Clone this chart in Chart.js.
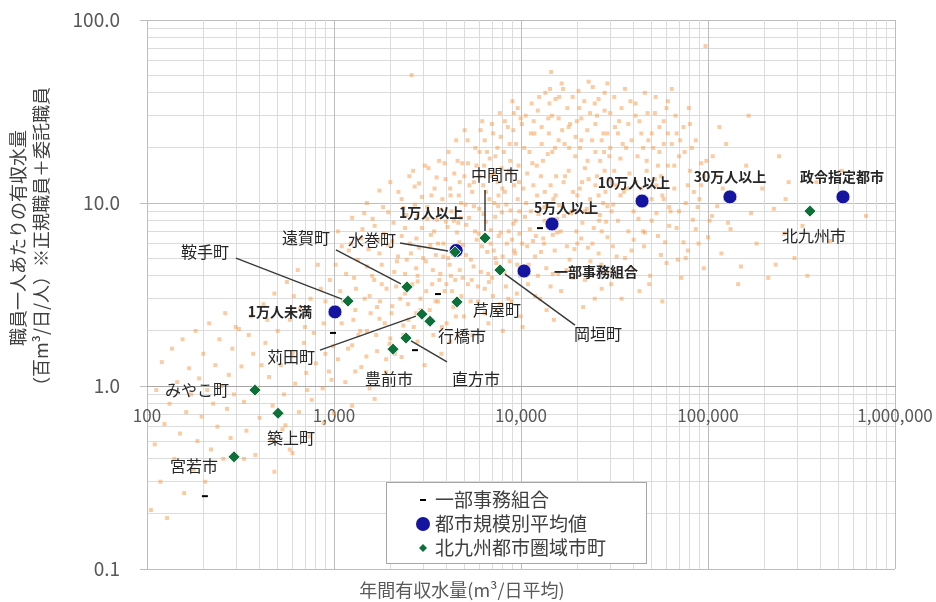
<!DOCTYPE html>
<html lang="ja">
<head>
<meta charset="utf-8">
<script src="https://cdn.jsdelivr.net/npm/chart.js@4.4.1/dist/chart.umd.min.js"></script>
<style>
  html, body { margin: 0; padding: 0; background: #fff; }
  #wrap { position: relative; width: 936px; height: 602px; }
</style>
</head>
<body>
<div id="wrap"><canvas id="grafico"></canvas></div>
<script>
/* 職員一人あたりの有収水量 × 年間有収水量（両対数の散布図） */

const FONTE = '"Noto Sans CJK JP", "Noto Sans", sans-serif';

// 目盛（10のべき乗だけラベルを出す）
const xMajor = [100, 1000, 10000, 100000, 1000000];
const yMajor = [0.1, 1, 10, 100];

// 全国の事業体（背景の薄いオレンジの点）— 図から読み取った概数
const bg100 = [
  [105,0.21],[110,0.48],[112,0.95],[118,0.3],[120,1.35],[124,0.62],[128,0.19],[132,0.8],
  [136,1.6],[140,0.4],[145,1.05],[150,0.55],[155,1.8],[158,0.26],[162,0.72],[168,1.25],
  [172,0.9],[178,0.35],[182,2.0],[186,0.5],[190,1.1],[196,0.68],[200,1.5],[205,0.3],
  [210,0.95],[215,2.2],[220,0.45],[226,0.8],[232,1.3],[238,0.6],[244,1.8],[250,1.0],
  [256,0.4],[262,2.5],[268,0.75],[274,1.15],[280,0.52],[286,1.6],[292,0.9],[298,2.1]
];
const bg300 = [
  [310,2.05],[360,2.4],[420,2.8],[480,3.2],[560,3.7],[640,4.3],
  [320,1.28],[370,1.5],[430,1.72],[500,2.0],[580,2.3],[660,2.65],[750,3.0],[850,3.4],[950,3.8],
  [330,0.82],[390,0.98],[450,1.12],[520,1.3],[600,1.5],[690,1.72],[780,1.95],[880,2.2],[980,2.45],
  [340,0.57],[400,0.67],[470,0.78],[540,0.9],[620,1.03],[710,1.18],[800,1.33],[900,1.5],[990,1.65],
  [380,0.42],[460,0.51],[550,0.61],[650,0.72],[760,0.84],[870,0.97],[970,1.08],
  [480,0.34],[600,0.43],[740,0.53],[880,0.63],[1000,0.71],
  [350,1.9],[410,1.3],[440,2.3],[530,0.58],[610,3.1],[700,2.1],[720,0.95],[820,4.6],
  [900,2.9],[940,1.2],[330,0.4],[580,0.45]
];
const bg1k = [
  [1050,7.0],[1250,8.3],[1500,10],[1750,11.7],
  [1020,4.6],[1200,5.5],[1400,6.4],[1650,7.5],[1950,8.9],[2300,10.5],[2700,12.3],
  [1080,3.3],[1280,3.9],[1500,4.5],[1750,5.3],[2050,6.2],[2400,7.3],[2800,8.5],
  [1100,2.2],[1300,2.6],[1550,3.1],[1800,3.6],[2100,4.2],[2450,4.9],[2850,5.7],
  [1050,1.4],[1250,1.67],[1500,2.0],[1750,2.33],[2050,2.73],[2400,3.2],[2800,3.73],
  [1150,1.05],[1400,1.27],[1700,1.55],[2000,1.82],[2350,2.14],[2750,2.5],
  [1250,0.78],[1550,0.97],[1900,1.19],[2300,1.44],[2800,1.75],
  [1100,5.8],[1200,3.0],[1350,1.9],[1450,8.8],[1600,4.0],[1700,2.7],[1850,6.8],[1900,1.4],
  [2000,13],[2150,3.5],[2200,5.1],[2350,9.4],[2500,2.3],[2550,6.0],[2650,15],[2750,4.4],
  [2900,3.0],[2950,10.8],[1300,1.2],[1650,0.85],[2600,50],
  [1120,2.9],[1160,4.1],[1190,1.6],[1230,6.0],[1270,2.3],[1310,3.4],[1340,4.9],[1380,2.0],
  [1420,7.2],[1460,3.0],[1490,1.45],[1530,5.6],[1570,2.5],[1610,8.2],[1640,3.8],[1680,1.9],
  [1720,6.3],[1760,2.9],[1800,4.6],[1830,9.5],[1870,2.2],[1910,3.4],[1940,5.9],[1980,1.7],
  [2030,2.5],[2080,7.8],[2120,1.5],[2170,4.8],[2210,11.5],[2260,3.0],[2300,6.6],[2350,1.9],
  [2400,4.1],[2440,8.6],[2490,2.8],[2530,14],[2580,5.3],[2620,3.6],[2670,2.1],[2710,9.8],
  [2760,6.4],[2800,4.0],[2850,12.8],[2900,2.6],[2950,7.3]
];
const bg3k = [
  [3050,1.3],[3100,4.8],[3150,9.5],[3200,15.5],[3250,2.6],[3300,6.7],[3350,3.6],[3400,1.9],
  [3450,12],[3500,5.2],[3550,8.1],[3600,2.9],[3650,17],[3700,4.1],[3750,1.5],[3800,10.5],
  [3850,6.0],[3900,3.3],[3950,13.5],[4000,2.2],[4050,7.4],[4100,19],[4150,4.6],[4200,1.75],
  [4250,9.0],[4300,5.6],[4350,2.7],[4400,14.5],[4450,3.8],[4500,22],[4550,6.9],[4600,1.9],
  [4650,11],[4700,4.3],[4750,8.3],[4800,3.1],[4850,16.5],[4900,5.9],[4950,2.4],[5000,25],
  [5100,7.6],[5200,3.6],[5300,12.5],[5400,4.9],[5500,1.9],[5600,9.6],[5700,20],[5800,6.3],
  [5900,2.9],[6000,14],[6100,4.2],[6200,28],[6300,8.7],[6400,3.4],[6500,11.5],[6600,5.4],
  [6700,2.2],[6800,17.5],[6900,7.1],[7000,3.9],[7100,24],[7200,10],[7300,5.0],[7400,2.6],
  [7500,13],[7600,6.6],[7700,31],[7800,4.4],[7900,8.9],[8000,2.0],[8100,19],[8200,11.5],
  [8300,3.5],[8400,6.0],[8500,26],[8600,15],[8700,4.8],[8800,9.1],[8900,2.9],[9000,36],
  [9100,7.7],[9200,12.5],[9300,5.3],[9400,21],[9500,3.2],[9600,10.5],[9700,16],[9800,6.8],
  [9900,4.0],[9950,29],
  [3000,5.0],[3060,16],[3110,3.3],[3160,8.2],[3210,2.3],[3270,5.9],[3320,11],[3380,4.3],
  [3430,7.0],[3490,2.9],[3540,13.8],[3600,6.0],[3660,3.8],[3720,9.2],[3780,2.1],[3840,5.1],
  [3900,16.5],[3960,7.9],[3990,3.6],
  [4080,5.0],[4180,12],[4280,3.3],[4380,8.0],[4480,2.4],[4580,17],[4680,6.1],[4780,10],
  [4880,3.9],[4980,14],[5080,5.2],[5180,22],[5280,8.3],[5380,2.9],[5480,11.5],[5580,4.5],
  [5680,7.0],[5780,16],[5880,3.5],[5980,9.3],[6080,25],[6180,5.8],[6280,12.5],[6380,2.5],
  [6480,7.9],[6580,19],[6680,4.1],[6780,10.5],[6880,6.0],[6980,27],[7080,3.1],[7180,14.5],
  [7280,8.4],[7380,4.7],[7480,20],[7580,11],[7680,2.8],[7780,6.9],[7880,15.5],[7980,5.1],
  [4220,4.0],[4620,7.8],[5050,9.8],[5450,3.8],[5950,6.8],[6350,16],[6750,3.7],[7150,5.5],
  [7550,9.6],[7950,12],
  [8150,4.2],[8350,9.8],[8550,3.0],[8750,17],[8950,6.3],[9150,31],[9350,8.0],[9550,4.6],
  [9750,13],[9950,2.4],[8600,7.0],[9200,5.5],[9800,9.0],
  [4200,11],[4700,13],[5200,16.5],[5600,13],[6000,19],[6400,22],[6900,14],[7300,18],
  [7800,23],[8200,28],[8700,21],[9100,25],[9600,33]
];
const bg10k = [
  [10200,2.1],[10500,8.4],[10800,14.5],[11000,4.6],[11300,24],[11600,6.2],[11900,3.1],[12200,11],
  [12500,38],[12800,5.4],[13100,17],[13400,8.0],[13700,2.6],[14000,29],[14400,12.5],[14800,4.1],
  [15200,20],[15600,6.9],[16000,9.7],[16400,3.3],[16800,42],[17200,14],[17600,5.8],[18000,26],
  [18500,8.8],[19000,3.9],[19500,18],[20000,11],[20500,33],[21000,6.4],[21500,2.7],[22000,15.5],
  [22500,9.3],[23000,46],[23500,4.8],[24000,22],[24500,7.3],[25000,12.5],[25500,30],[26000,5.3],
  [26500,17],[27000,3.4],[27500,10],[28000,40],[28500,7.9],[29000,24],[29500,13.5],[12000,6.6],
  [15000,2.3],[18200,4.9],[21200,13],[24800,3.0],[27800,19],[13300,9.5],[16600,25],[19800,7.0],
  [22800,5.7],[26400,8.6],[11500,16.5],[14200,35],[20700,20],[28800,4.2],[14500,52],
  [10150,6.0],[10400,20],[10650,10],[10900,3.6],[11150,7.2],[11400,35],[11650,12.5],[11900,5.1],
  [12150,16],[12400,8.7],[12650,3.0],[12900,26],[13150,6.4],[13400,11.5],[13650,4.4],[13900,18.5],
  [14150,7.6],[14400,3.5],[14650,30],[14900,10.5],[15150,5.5],[15400,14],[15650,8.2],[15900,22],
  [10300,12],[10800,5.8],[11300,9.0],[11800,24],[12300,4.0],[12800,14],[13300,6.0],[13800,9.8],
  [14300,42],[14800,6.7],[15300,11],[15800,4.1],[16000,38],
  [16300,7.0],[16900,13],[17500,4.3],[18100,20],[18700,9.0],[19300,5.6],[19900,28],[20600,12],
  [21300,7.8],[22000,3.8],[22700,17],[23400,10.5],[24100,6.0],[24800,35],[25500,14],[26200,8.0],
  [26900,4.6],[27600,24],[28300,11.5],[29000,6.5],[29700,18],
  [17000,8.5],[18000,15],[19000,11.5],[20000,6.0],[21000,22],[22000,9.0],[23000,13.5],[24000,4.4],
  [25000,19],[26000,11],[27000,7.0],[28000,15],[29000,9.6],
  [10100,27],[10600,30],[11100,19],[11700,28],[12300,32],[12900,21],[13500,40],[14100,24],
  [14700,19],[15300,37],[15900,29],[16500,45],[17100,21],[17700,33],[18300,27],[18900,38],
  [19600,23],[20300,41],[21000,29],[21800,36],[22600,25],[23400,31],[24200,43],[25000,27],
  [26000,37],[27000,22],[28000,32],[29000,45]
];
const bg30k = [
  [30500,9.0],[31500,15],[32500,5.1],[33500,28],[34500,3.0],[35500,11.5],[36500,20],[37500,7.0],
  [38500,36],[39500,4.3],[41000,13],[42500,8.2],[44000,24],[45500,5.8],[47000,17],[48500,3.6],
  [50000,10.5],[52000,31],[54000,6.6],[56000,14],[58000,21],[60000,4.7],[62000,9.5],[64000,42],
  [66000,12],[68000,7.3],[70000,18],[72000,3.9],[74000,26],[76000,10],[78000,5.5],[80000,15],
  [83000,8.1],[86000,22],[89000,6.0],[92000,12.5],[95000,4.4],[98000,17],[34000,17.5],[40000,6.3],
  [46000,40],[53000,12.5],[61000,24],[69000,4.9],[79000,33],[88000,9.5],[57000,2.9],[43000,3.3],
  [97000,72],
  [30400,3.6],[31100,9.8],[31800,26],[30000,31],[31000,5.8],[32000,12.5],
  [33000,8.0],[35000,21],[37000,12],[39000,5.5],[41000,30],[43000,10.5],[45000,7.0],[47000,15],
  [49000,4.0],[51000,20],[53000,8.8],[55000,26],[57000,11],[59000,6.1],[61000,16],[63000,9.0],
  [34000,11],[36000,5.0],[38000,14.5],[40000,9.0],[42000,18],[44000,12],[46000,6.9],[48000,22],
  [50000,8.0],[52000,13.5],[54000,16],[56000,5.2],[58000,10.5],[60000,33],[62000,7.5],
  [66000,16],[70000,9.0],[74000,6.1],[78000,12.5],[82000,20],[86000,7.2],[90000,10.5],[95000,14],
  [68000,24],[76000,5.0],[84000,11.5],[92000,16.5],
  [30000,20],[31500,38],[33000,24],[34500,33],[36000,42],[37500,27],[39000,22],[41000,35],
  [43000,28],[45000,20],[47500,31],[50000,24],[52500,38],[55000,19],[58000,28],[61000,36],
  [64000,21],[67000,30],[71000,22],[75000,19],[80000,27]
];
const bg100k = [
  [105000,8.5],[110000,14],[118000,5.3],[125000,21],[132000,7.2],[140000,11],[150000,4.5],
  [160000,16],[170000,8.8],[182000,6.0],[195000,12],[210000,3.9],[225000,9.3],[240000,18],
  [255000,6.8],[270000,13],[290000,5.0],[115000,26],[165000,30],[230000,4.6],[260000,10.5],
  [145000,3.6],[320000,7.5],[380000,13],[450000,6.2],[520000,15],[700000,8.5],[340000,4.0],
  [100000,6.5],[106000,18],[112000,9.6],[120000,12],[128000,7.8],[102000,8.0]
];

// 一部事務組合（黒いダッシュ）
const kumiaiX = [204, 988, 2710, 3600, 12640];
const kumiaiY = [0.25, 1.95, 1.57, 3.18, 7.29];

// 都市規模別平均値（青い丸）
const kiboNomes = ["1万人未満", "1万人以上", "5万人以上", "10万人以上", "30万人以上", "政令指定都市", "一部事務組合"];
const kiboX = [1012, 4500, 14650, 44400, 131000, 527000, 10380];
const kiboY = [2.54, 5.5, 7.68, 10.25, 10.8, 10.8, 4.25];

// 北九州都市圏域市町（緑のひし形）
const shichoNomes = ["北九州市", "中間市", "水巻町", "岡垣町", "遠賀町", "芦屋町", "鞍手町",
                     "苅田町", "行橋市", "直方市", "豊前市", "みやこ町", "築上町", "宮若市"];
const shichoX = [351000, 6420, 4440, 7720, 2456, 4546, 1188, 2954, 3260, 2427, 2068, 378, 502, 292];
const shichoY = [9.03, 6.44, 5.40, 4.30, 3.48, 2.88, 2.91, 2.47, 2.26, 1.83, 1.59, 0.95, 0.71, 0.41];

// ラベルの置き場所（点からの相対ピクセル）と引き出し線
const rotulos = {
  "1万人未満":   { dx: -55, dy: 0 },
  "1万人以上":   { dx: -25, dy: -38 },
  "5万人以上":   { dx: 14, dy: -16 },
  "10万人以上":  { dx: -8, dy: -18 },
  "30万人以上":  { dx: 0, dy: -20 },
  "政令指定都市": { dx: -1, dy: -20 },
  "一部事務組合": { dx: 72, dy: 1 },
  "北九州市": { dx: 4, dy: 25 },
  "中間市":   { dx: 10, dy: -63, linha: [0, -48, 0, -7] },
  "水巻町":   { dx: -83, dy: -12, linha: [-55, -9, -7, -1] },
  "岡垣町":   { dx: 98, dy: 64, linha: [75, 55, 5, 4] },
  "遠賀町":   { dx: -101, dy: -49, linha: [-71, -37, -6, -3] },
  "芦屋町":   { dx: 40, dy: 8 },
  "鞍手町":   { dx: -143, dy: -49, linha: [-112, -43, -6, -2] },
  "苅田町":   { dx: -131, dy: 43, linha: [-102, 36, -6, 2] },
  "行橋市":   { dx: 32, dy: 15 },
  "直方市":   { dx: 70, dy: 41, linha: [41, 24, 5, 3] },
  "豊前市":   { dx: -4, dy: 30 },
  "みやこ町": { dx: -58, dy: 0 },
  "築上町":   { dx: 13, dy: 25 },
  "宮若市":   { dx: -40, dy: 9 },
};

const AZUL = "#14149e";
const VERDE = "#0c7038";
const LARANJA = "rgba(247,152,70,0.5)";
const GRADE_MAIOR = "#bdbdbd";
const GRADE_MENOR = "#dcdcdc";

function listaTicks(maiores) {
  const t = [];
  for (let i = 0; i < maiores.length - 1; i++) {
    for (let m = 1; m <= 9; m++) t.push(maiores[i] * m);
  }
  t.push(maiores[maiores.length - 1]);
  return t;
}
const pares = (xs, ys) => xs.map((x, i) => ({ x, y: ys[i] }));
const bgTodos = [...bg100, ...bg300, ...bg1k, ...bg3k, ...bg10k, ...bg30k, ...bg100k].map(([x, y]) => ({ x, y }));

// Rótulos dos pontos + linhas de chamada
const pluginRotulos = {
  id: "rotulos",
  afterDatasetsDraw(chart) {
    const ctx = chart.ctx;
    ctx.save();
    [[1, kiboNomes, "bold 14px " + FONTE], [0, shichoNomes, "16px " + FONTE]].forEach(([idx, nomes, fonte]) => {
      const meta = chart.getDatasetMeta(idx);
      meta.data.forEach((el, j) => {
        const r = rotulos[nomes[j]];
        if (!r) return;
        const { x, y } = el.getProps(["x", "y"], true);
        if (r.linha) {
          ctx.strokeStyle = "#3a3a3a";
          ctx.lineWidth = 1.5;
          ctx.beginPath();
          ctx.moveTo(x + r.linha[0], y + r.linha[1]);
          ctx.lineTo(x + r.linha[2], y + r.linha[3]);
          ctx.stroke();
        }
        ctx.font = fonte;
        ctx.fillStyle = "#262626";
        ctx.textAlign = "center";
        ctx.textBaseline = "middle";
        ctx.fillText(nomes[j], x + r.dx, y + r.dy);
      });
    });
    ctx.restore();
  }
};

// Legenda dentro da área do gráfico + títulos dos eixos
const pluginMoldura = {
  id: "moldura",
  afterDraw(chart) {
    const ctx = chart.ctx;
    const a = chart.chartArea;
    ctx.save();

    // legenda
    const lx = a.left + 239, ly = a.top + 462, lw = 260, lh = 81;
    ctx.fillStyle = "#fff";
    ctx.fillRect(lx, ly, lw, lh);
    ctx.strokeStyle = "#a6a6a6";
    ctx.lineWidth = 1;
    ctx.strokeRect(lx + 0.5, ly + 0.5, lw, lh);
    const itens = [chart.data.datasets[2], chart.data.datasets[1], chart.data.datasets[0]];
    itens.forEach((ds, i) => {
      const cy = ly + 18 + i * 24;
      const mx = lx + 37;
      if (ds.pointStyle === "line") {
        ctx.strokeStyle = "#000";
        ctx.lineWidth = 2;
        ctx.beginPath(); ctx.moveTo(mx - 3, cy); ctx.lineTo(mx + 3, cy); ctx.stroke();
      } else if (ds.pointStyle === "circle") {
        ctx.fillStyle = AZUL;
        ctx.beginPath(); ctx.arc(mx, cy, 7, 0, Math.PI * 2); ctx.fill();
      } else {
        ctx.fillStyle = VERDE;
        ctx.beginPath();
        ctx.moveTo(mx, cy - 4); ctx.lineTo(mx + 4, cy); ctx.lineTo(mx, cy + 4); ctx.lineTo(mx - 4, cy);
        ctx.closePath(); ctx.fill();
      }
      ctx.font = "19px " + FONTE;
      ctx.fillStyle = "#404040";
      ctx.textAlign = "left";
      ctx.textBaseline = "middle";
      ctx.fillText(ds.label, mx + 12, cy);
    });

    // título do eixo X
    ctx.font = "18px " + FONTE;
    ctx.fillStyle = "#595959";
    ctx.textAlign = "center";
    ctx.textBaseline = "middle";
    ctx.fillText("年間有収水量(m³/日平均)", 462, 590);

    // título do eixo Y (duas linhas, girado)
    ctx.fillStyle = "#404040";
    [["職員一人あたりの有収水量", 18, 238], ["（百m³/日/人）※正規職員＋委託職員", 41, 241]].forEach(([t, x, y]) => {
      ctx.save();
      ctx.translate(x, y);
      ctx.rotate(-Math.PI / 2);
      ctx.fillText(t, 0, 0);
      ctx.restore();
    });
    ctx.restore();
  }
};

new Chart(document.getElementById("grafico"), {
  type: "scatter",
  data: {
    datasets: [
      {
        label: "北九州都市圏域市町",
        data: pares(shichoX, shichoY),
        pointStyle: "rectRot",
        pointRadius: 6,
        backgroundColor: VERDE,
        borderColor: "rgba(255,255,255,0.8)",
        borderWidth: 1,
        order: 0,
      },
      {
        label: "都市規模別平均値",
        data: pares(kiboX, kiboY),
        pointStyle: "circle",
        pointRadius: 7,
        backgroundColor: AZUL,
        borderColor: "rgba(255,255,255,0.8)",
        borderWidth: 1,
        order: 1,
      },
      {
        label: "一部事務組合",
        data: pares(kumiaiX, kumiaiY),
        pointStyle: "line",
        pointRadius: 3,
        borderColor: "#000",
        borderWidth: 2,
        order: 2,
      },
      {
        label: "全国",
        data: bgTodos,
        pointStyle: "rect",
        pointRadius: 2.8,
        backgroundColor: LARANJA,
        borderWidth: 0,
        order: 3,
      },
    ],
  },
  options: {
    responsive: true, maintainAspectRatio: false, animation: false, devicePixelRatio: 1,
    layout: { padding: { left: 0, top: 20, right: 41, bottom: 33 } },
    plugins: { legend: { display: false }, tooltip: { enabled: false } },
    scales: {
      y: {
        type: "logarithmic", min: 0.1, max: 100,
        afterBuildTicks: s => { s.ticks = listaTicks(yMajor).map(v => ({ value: v })); },
        // largura fixa do eixo e sem folga extra por causa dos rótulos
        afterFit: s => { s.width = 147; s.paddingTop = 0; s.paddingBottom = 0; },
        ticks: {
          autoSkip: false, padding: 20, color: "#595959",
          font: { family: FONTE, size: 19 },
          callback: v => (yMajor.includes(v) ? v.toFixed(1) : ""),
        },
        grid: {
          color: c => (yMajor.includes(c.tick.value) ? GRADE_MAIOR : GRADE_MENOR),
          tickLength: 7,
          tickColor: c => (yMajor.includes(c.tick.value) ? GRADE_MAIOR : "rgba(0,0,0,0)"),
        },
        border: { color: GRADE_MAIOR },
      },
      x: {
        type: "logarithmic", min: 100, max: 1000000,
        position: { y: 1 },
        afterBuildTicks: s => { s.ticks = listaTicks(xMajor).map(v => ({ value: v })); },
        afterFit: s => { s.height = 0; s.paddingLeft = 0; s.paddingRight = 0; },
        ticks: {
          autoSkip: false, maxRotation: 0, padding: 14, color: "#595959",
          font: { family: FONTE, size: 17 },
          callback: v => (xMajor.includes(v) ? v.toLocaleString("en-US") : ""),
        },
        grid: {
          color: c => (xMajor.includes(c.tick.value) ? GRADE_MAIOR : GRADE_MENOR),
          tickLength: 5,
          tickColor: c => (xMajor.includes(c.tick.value) ? GRADE_MAIOR : "rgba(0,0,0,0)"),
        },
        border: { color: "#a6a6a6" },
      },
    },
  },
  plugins: [pluginRotulos, pluginMoldura],
});
</script>
</body>
</html>
